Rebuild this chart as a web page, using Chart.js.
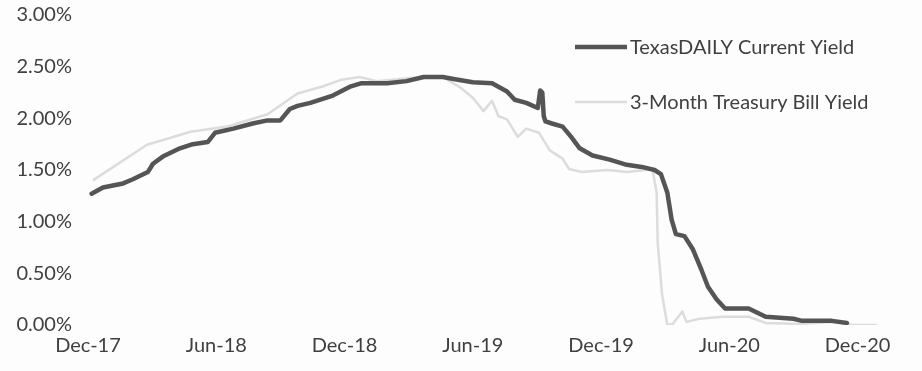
<!DOCTYPE html>
<html>
<head>
<meta charset="utf-8">
<script src="https://cdn.jsdelivr.net/npm/chart.js@4/dist/chart.umd.min.js"></script>
<style>
  html, body { margin: 0; padding: 0; background: #fdfdfd; }
  #wrap { width: 922px; height: 371px; }
</style>
</head>
<body>
<div id="wrap"><canvas id="yields" width="922" height="371"></canvas></div>
<script>
// x positions are months after 1 Dec 2017
const tickMonths = [0, 6, 12, 18, 24, 30, 36];
const tickLabels = ['Dec-17', 'Jun-18', 'Dec-18', 'Jun-19', 'Dec-19', 'Jun-20', 'Dec-20'];

const texasLabel = 'TexasDAILY Current Yield';
const texasMonths = [0.17, 0.7, 1.64, 2.1, 2.8, 3.04, 3.5, 4.3, 4.9, 5.6, 5.94, 6.8, 7.7, 8.4, 9.0, 9.44, 9.8, 10.4, 11.45, 12.3,
  12.8, 14.0, 14.9, 15.7, 16.6, 17.1, 18.0, 18.9, 19.6, 19.96, 20.5, 21.04, 21.15, 21.25, 21.32, 21.4, 21.7, 22.2, 22.6, 23.0,
  23.6, 24.4, 25.2, 25.9, 26.5, 26.8, 27.1, 27.3, 27.5, 27.9, 28.3, 28.7, 29.0, 29.4, 29.8, 30.9, 31.7, 33.0, 33.4, 34.8, 35.5];
const texasYield = [1.27, 1.33, 1.37, 1.41, 1.48, 1.56, 1.63, 1.71, 1.75, 1.77, 1.86, 1.90, 1.95, 1.98, 1.98, 2.09, 2.12, 2.15, 2.22, 2.31,
  2.34, 2.34, 2.36, 2.40, 2.40, 2.38, 2.35, 2.34, 2.26, 2.18, 2.15, 2.10, 2.27, 2.25, 2.02, 1.97, 1.95, 1.92, 1.82, 1.71,
  1.64, 1.60, 1.55, 1.53, 1.50, 1.46, 1.28, 1.02, 0.88, 0.86, 0.73, 0.53, 0.37, 0.25, 0.16, 0.16, 0.08, 0.06, 0.04, 0.04, 0.02];

const tbillLabel = '3-Month Treasury Bill Yield';
const tbillMonths = [0.23, 2.76, 4.8, 6.5, 8.4, 9.8, 11.0, 11.8, 12.7, 13.5, 14.6, 15.7, 16.6, 17.4, 18.0, 18.5, 18.9, 19.2, 19.6, 20.1,
  20.5, 21.1, 21.6, 22.2, 22.5, 23.1, 24.3, 25.2, 26.1, 26.4, 26.6, 26.65, 26.85, 27.1, 27.35, 27.8, 28.0, 28.6, 29.7, 30.9,
  31.7, 33.3, 34.8, 35.8, 36.9];
const tbillYield = [1.40, 1.745, 1.87, 1.92, 2.04, 2.24, 2.31, 2.37, 2.40, 2.36, 2.38, 2.40, 2.40, 2.30, 2.20, 2.07, 2.17, 2.02, 1.99, 1.82,
  1.90, 1.86, 1.69, 1.61, 1.51, 1.48, 1.50, 1.48, 1.50, 1.51, 1.28, 0.79, 0.30, 0.0, 0.01, 0.13, 0.03, 0.06, 0.08, 0.08,
  0.02, 0.01, 0.03, 0.0, 0.0];

const toPoints = (xs, ys) => xs.map((x, i) => ({ x: x, y: ys[i] }));

const FONT = 'Lato, "Open Sans", sans-serif';
const TEXT = '#404040';

// legend drawn as two stacked entries floating over the plot
const floatingLegend = {
  id: 'floatingLegend',
  afterDraw(chart, args, opts) {
    const ctx = chart.ctx;
    ctx.save();
    ctx.font = '20px ' + FONT;
    ctx.textBaseline = 'middle';
    ctx.fillStyle = TEXT;
    chart.data.datasets.forEach((ds, i) => {
      const y = opts.y + i * opts.gap;
      ctx.strokeStyle = ds.borderColor;
      ctx.lineWidth = ds.borderWidth;
      ctx.beginPath();
      ctx.moveTo(opts.x, y);
      ctx.lineTo(opts.x + opts.lineLength, y);
      ctx.stroke();
      ctx.fillText(ds.label, opts.x + opts.lineLength + 3, y + 1);
    });
    ctx.restore();
  }
};

new Chart(document.getElementById('yields'), {
  type: 'line',
  data: {
    datasets: [
      {
        label: texasLabel,
        data: toPoints(texasMonths, texasYield),
        borderColor: '#555555',
        borderWidth: 4.5,
        pointRadius: 0,
        tension: 0,
        borderCapStyle: 'round',
        borderJoinStyle: 'round'
      },
      {
        label: tbillLabel,
        data: toPoints(tbillMonths, tbillYield),
        borderColor: '#dcdcdc',
        borderWidth: 2.5,
        pointRadius: 0,
        tension: 0,
        borderJoinStyle: 'round'
      }
    ]
  },
  options: {
    responsive: false,
    animation: false,
    devicePixelRatio: 1,
    layout: { padding: { left: 0, right: 43, top: 15, bottom: 4 } },
    plugins: {
      legend: { display: false },
      tooltip: { enabled: false },
      floatingLegend: { x: 575, y: 47, gap: 55, lineLength: 52 }
    },
    scales: {
      x: {
        type: 'linear',
        min: 0,
        max: 37,
        grid: { display: false, drawTicks: false },
        border: { display: false },
        afterBuildTicks: (scale) => { scale.ticks = tickMonths.map(v => ({ value: v })); },
        ticks: {
          autoSkip: false,
          maxRotation: 0,
          padding: 9,
          color: TEXT,
          font: { family: FONT, size: 20 },
          callback: (value) => tickLabels[tickMonths.indexOf(value)]
        }
      },
      y: {
        min: 0,
        max: 3,
        grid: { display: false, drawTicks: false },
        border: { display: false },
        afterFit: (scale) => {
          scale.width = 88;
          scale.paddingTop = 0;
          scale.paddingBottom = 0;
        },
        ticks: {
          stepSize: 0.5,
          padding: 16,
          color: TEXT,
          font: { family: FONT, size: 20 },
          callback: (value) => value.toFixed(2) + '%'
        }
      }
    }
  },
  plugins: [floatingLegend]
});
</script>
</body>
</html>
